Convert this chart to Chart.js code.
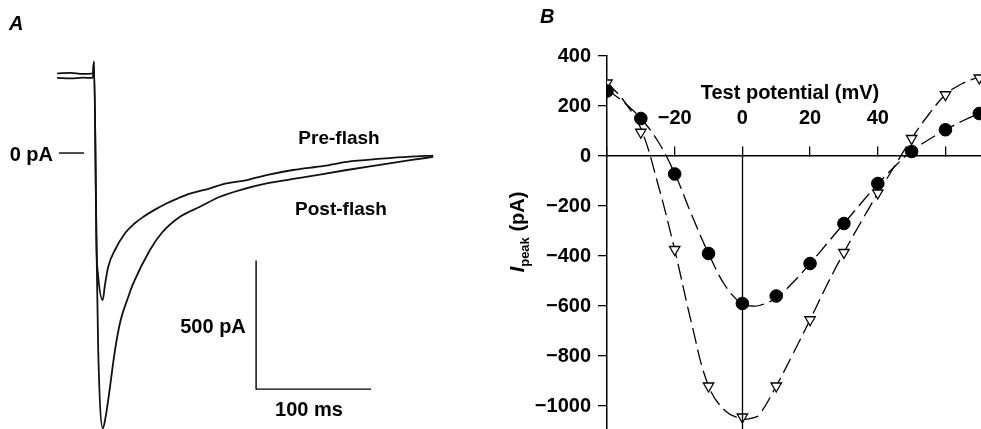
<!DOCTYPE html>
<html>
<head>
<meta charset="utf-8">
<script src="https://cdn.jsdelivr.net/npm/chart.js@4.4.0/dist/chart.umd.min.js"></script>
<style>
  html, body { margin: 0; padding: 0; background: #fff; }
  #wrap { position: relative; width: 981px; height: 429px; overflow: hidden; }
  #TraceChart { position: absolute; left: 0; top: 0; }
  #IVChart { position: absolute; left: 500px; top: 0; }
</style>
</head>
<body>
<div id="wrap">
  <canvas id="TraceChart" width="480" height="429"></canvas>
  <canvas id="IVChart" width="481" height="429"></canvas>
</div>
<script>
// ---- panel A: membrane current traces (time in ms, current in pA)
var preTime    = [-32, -20, -10, -1, 0, 2.3, 3.5, 7.6, 9.5, 12.4, 18.3, 27, 35, 43, 53, 63, 73, 84, 101, 115, 133, 150, 173, 200, 220, 250, 275, 295];
var preCurrent = [310, 312, 308, 310, 355, -377, -470, -572, -515, -442, -377, -312, -275, -248, -220, -196, -176, -157, -137, -118, -105, -86, -66, -50, -34, -22, -14, -10];
var postTime    = [-32, -20, -10, -1, 0, 2.3, 3.7, 7.8, 10, 12.4, 18.3, 23.2, 29.8, 33.9, 48.7, 58.9, 74.8, 92.2, 109.6, 127, 150.2, 179.2, 219.8, 250, 275, 295];
var postCurrent = [292, 290, 293, 292, 355, -377, -766, -1070, -1030, -961, -766, -650, -560, -510, -377, -311, -248, -209, -170, -144, -118, -97, -66, -45, -28, -15];

// scale bars: 100 ms, 500 pA
var scaleBarOrigin = [141, -918];
var scaleBarTime = 100;
var scaleBarCurrent = 500;
var zeroMarkTime = [-30.4, -8.7];

// ---- panel B: peak current vs test potential
var testPotential = [-40, -30, -20, -10, 0, 10, 20, 30, 40, 50, 60, 70];
var preFlashPeak  = [260, 150, -72, -390, -590, -560, -430, -270, -110, 18, 105, 170];
var postFlashPeak = [292, 95, -374, -920, -1044, -920, -655, -386, -148, 70, 245, 312];

var fitPotential = [-40, -35, -30, -25, -20, -15, -10, -5, 0, 3, 5, 10, 15, 20, 25, 30, 35, 40, 45, 50, 55, 60, 65, 70];
var preFlashFit  = [265, 215, 150, 60, -70, -235, -390, -520, -593, -600, -598, -568, -505, -430, -350, -270, -190, -112, -42, 20, 65, 105, 140, 170];
var postFlashFit = [295, 220, 110, -110, -375, -670, -920, -1020, -1052, -1048, -1035, -920, -790, -655, -515, -386, -265, -150, -40, 70, 165, 245, 290, 316];

var ivTicksX = [-40, -20, 0, 20, 40, 60];
var ivTicksY = [400, 200, 0, -200, -400, -600, -800, -1000];

var FONT = '"Liberation Sans", Arial, Helvetica, sans-serif';

function pairs(xs, ys) {
  return xs.map(function (x, i) { return { x: x, y: ys[i] }; });
}
function signed(v) {
  return v < 0 ? '\u2212' + Math.abs(v) : String(v);
}

// ---------------- panel A
var traceText = {
  id: 'traceText',
  afterDraw: function (chart) {
    var ctx = chart.ctx;
    ctx.save();
    ctx.fillStyle = '#000';
    ctx.textBaseline = 'middle';
    ctx.font = 'italic bold 20px ' + FONT;
    ctx.textAlign = 'left';
    ctx.fillText('A', 9, 24);
    ctx.font = 'bold 20px ' + FONT;
    ctx.textAlign = 'right';
    ctx.fillText('0 pA', 53, 155);
    ctx.textAlign = 'center';
    ctx.fillText('500 pA', 213, 327);
    ctx.fillText('100 ms', 309, 410);
    ctx.font = 'bold 19px ' + FONT;
    ctx.fillText('Pre-flash', 339, 139);
    ctx.fillText('Post-flash', 341, 210);
    ctx.restore();
  }
};

var traceConfig = {
  type: 'line',
  data: {
    datasets: [{
      label: 'Pre-flash',
      data: pairs(preTime, preCurrent),
      borderColor: '#111', borderWidth: 1.8, pointRadius: 0,
      cubicInterpolationMode: 'monotone', clip: false
    }, {
      label: 'Post-flash',
      data: pairs(postTime, postCurrent),
      borderColor: '#111', borderWidth: 1.8, pointRadius: 0,
      cubicInterpolationMode: 'monotone', clip: false
    }, {
      label: 'scale bar',
      data: [
        { x: scaleBarOrigin[0], y: scaleBarOrigin[1] + scaleBarCurrent },
        { x: scaleBarOrigin[0], y: scaleBarOrigin[1] },
        { x: scaleBarOrigin[0] + scaleBarTime, y: scaleBarOrigin[1] }
      ],
      borderColor: '#000', borderWidth: 1.4, pointRadius: 0, tension: 0
    }, {
      label: '0 pA',
      data: [{ x: zeroMarkTime[0], y: 0 }, { x: zeroMarkTime[1], y: 0 }],
      borderColor: '#000', borderWidth: 1.4, pointRadius: 0
    }]
  },
  options: {
    responsive: false,
    animation: false,
    layout: { padding: 0, autoPadding: false },
    plugins: { legend: { display: false }, tooltip: { enabled: false } },
    scales: {
      x: { type: 'linear', display: false, min: -81.7, max: 335.7 },
      y: { type: 'linear', display: false, min: -1073, max: 595 }
    }
  },
  plugins: [traceText]
};
new Chart(document.getElementById('TraceChart').getContext('2d'), traceConfig);

// ---------------- panel B
var ivText = {
  id: 'ivText',
  afterDatasetsDraw: function (chart) {
    var ctx = chart.ctx, xs = chart.scales.x, ys = chart.scales.y;
    var area = chart.chartArea;
    ctx.save();
    // vertical line at 0 mV, below the axis
    ctx.strokeStyle = '#000';
    ctx.lineWidth = 1.3;
    ctx.beginPath();
    var x0 = Math.round(xs.getPixelForValue(0)) + 0.5;
    ctx.moveTo(x0, ys.getPixelForValue(0));
    ctx.lineTo(x0, area.bottom);
    ctx.stroke();

    ctx.fillStyle = '#000';
    ctx.textBaseline = 'middle';
    ctx.textAlign = 'left';
    ctx.font = 'italic bold 20px ' + FONT;
    ctx.fillText('B', 40, 17);

    ctx.textAlign = 'center';
    ctx.font = 'bold 20px ' + FONT;
    ctx.fillText('Test potential (mV)', 290, 93);

    // y title: I_peak (pA), rotated
    var parts = [
      { t: 'I', f: 'italic bold 20px ' + FONT, dy: 0 },
      { t: 'peak', f: 'bold 13px ' + FONT, dy: 5 },
      { t: ' (pA)', f: 'bold 20px ' + FONT, dy: 0 }
    ];
    ctx.translate(17, 232);
    ctx.rotate(-Math.PI / 2);
    ctx.textAlign = 'left';
    ctx.textBaseline = 'alphabetic';
    var total = 0;
    parts.forEach(function (p) { ctx.font = p.f; p.w = ctx.measureText(p.t).width; total += p.w; });
    var cx = -total / 2;
    parts.forEach(function (p) { ctx.font = p.f; ctx.fillText(p.t, cx, 7 + p.dy); cx += p.w; });
    ctx.restore();
  }
};

var ivConfig = {
  type: 'line',
  data: {
    datasets: [{
      label: 'Pre-flash',
      data: pairs(testPotential, preFlashPeak),
      showLine: false,
      pointStyle: 'circle', pointRadius: 6.3,
      pointBackgroundColor: '#000', pointBorderColor: '#000', pointBorderWidth: 1
    }, {
      label: 'Post-flash',
      data: pairs(testPotential, postFlashPeak),
      showLine: false,
      pointStyle: 'triangle', pointRotation: 180, pointRadius: 6,
      pointBackgroundColor: '#fff', pointBorderColor: '#000', pointBorderWidth: 1.3
    }, {
      label: 'Pre-flash fit',
      data: pairs(fitPotential, preFlashFit),
      borderColor: '#000', borderWidth: 1.3, borderDash: [16, 6],
      pointRadius: 0, tension: 0.4
    }, {
      label: 'Post-flash fit',
      data: pairs(fitPotential, postFlashFit),
      borderColor: '#000', borderWidth: 1.3, borderDash: [16, 6],
      pointRadius: 0, tension: 0.4
    }]
  },
  options: {
    responsive: false,
    animation: false,
    layout: { padding: { top: 56, left: 0, right: 0, bottom: 0 }, autoPadding: false },
    plugins: { legend: { display: false }, tooltip: { enabled: false } },
    scales: {
      x: {
        type: 'linear',
        position: { y: 0 },
        min: -40, max: 70.5,
        afterBuildTicks: function (s) { s.ticks = ivTicksX.map(function (v) { return { value: v }; }); },
        afterFit: function (s) { s.paddingLeft = 0; s.paddingRight = 0; },
        grid: { drawOnChartArea: false, tickLength: -10, color: '#000', lineWidth: 1.3 },
        border: { color: '#000', width: 1.5 },
        ticks: {
          color: '#000', padding: -40, maxRotation: 0, autoSkip: false,
          font: { family: FONT, size: 20, weight: 'bold' },
          callback: function (v) { return (v === -40 || v === 60) ? '' : signed(v); }
        }
      },
      y: {
        type: 'linear',
        position: 'left',
        min: -1092, max: 400,
        afterBuildTicks: function (s) { s.ticks = ivTicksY.map(function (v) { return { value: v }; }); },
        afterFit: function (s) { s.width = 107; s.paddingTop = 0; s.paddingBottom = 0; },
        grid: { drawOnChartArea: false, tickLength: 9, color: '#000', lineWidth: 1.3 },
        border: { color: '#000', width: 1.5 },
        ticks: {
          color: '#000', padding: 7, autoSkip: false,
          font: { family: FONT, size: 20, weight: 'bold' },
          callback: function (v) { return signed(v); }
        }
      }
    }
  },
  plugins: [ivText]
};
new Chart(document.getElementById('IVChart').getContext('2d'), ivConfig);
</script>
</body>
</html>
